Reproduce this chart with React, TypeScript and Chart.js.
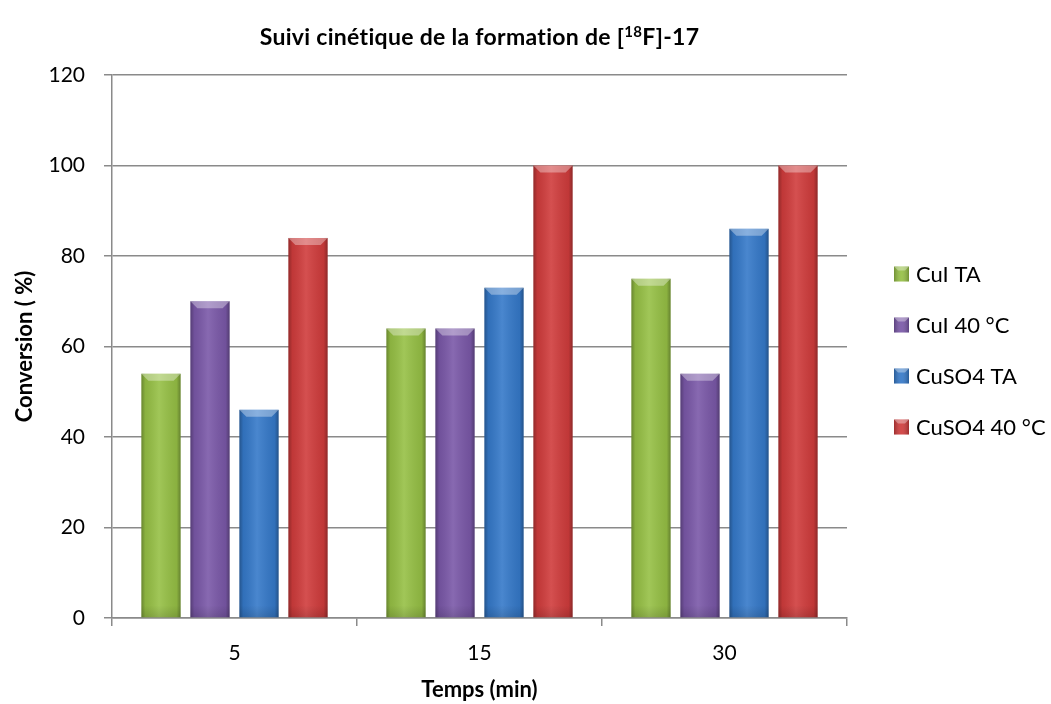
import React, { useEffect, useRef } from 'react';
import { Chart, registerables } from 'chart.js';

Chart.register(...registerables);

// ---- Data ----
const categories = ['5', '15', '30'];
const seriesNames = ['CuI TA', 'CuI 40 °C', 'CuSO4 TA', 'CuSO4 40 °C'];
const cuiTA = [54, 64, 75];
const cui40 = [70, 64, 54];
const cuso4TA = [46, 73, 86];
const cuso440 = [84, 100, 100];
const seriesColors = ['#96C045', '#7A58A8', '#3579C9', '#D03C3C'];
const yMin = 0;
const yMax = 120;
const yStep = 20;
const titleMain = 'Suivi cinétique de la formation de [';
const titleSup = '18';
const titleEnd = 'F]-17';
const xTitle = 'Temps (min)';
const yTitle = 'Conversion ( %)';

const FONT = 'Lato, "Open Sans", sans-serif';
const GRID = '#8a8a8a';

const bevelPlugin = {
  id: 'bevelBars',
  afterDatasetDraw(chart: any, args: any) {
    const ctx = chart.ctx;
    const meta = chart.getDatasetMeta(args.index);
    ctx.save();
    meta.data.forEach((el: any) => {
      const p = el.getProps(['x', 'y', 'base', 'width'], true);
      const left = p.x - p.width / 2;
      const right = p.x + p.width / 2;
      const top = Math.min(p.y, p.base);
      const bottom = Math.max(p.y, p.base);
      const w = right - left;
      const g = ctx.createLinearGradient(left, 0, right, 0);
      g.addColorStop(0, 'rgba(0,0,0,0.30)');
      g.addColorStop(0.1, 'rgba(0,0,0,0.08)');
      g.addColorStop(0.45, 'rgba(255,255,255,0.10)');
      g.addColorStop(0.9, 'rgba(0,0,0,0.08)');
      g.addColorStop(1, 'rgba(0,0,0,0.32)');
      ctx.fillStyle = g;
      ctx.fillRect(left, top, w, bottom - top);
      const b = Math.min(7, (bottom - top) / 2);
      // top bevel
      ctx.beginPath();
      ctx.moveTo(left, top);
      ctx.lineTo(right, top);
      ctx.lineTo(right - b, top + b);
      ctx.lineTo(left + b, top + b);
      ctx.closePath();
      ctx.fillStyle = 'rgba(255,255,255,0.35)';
      ctx.fill();
      // bottom shade
      const gb = ctx.createLinearGradient(0, bottom - 12, 0, bottom);
      gb.addColorStop(0, 'rgba(0,0,0,0)');
      gb.addColorStop(1, 'rgba(0,0,0,0.12)');
      ctx.fillStyle = gb;
      ctx.fillRect(left, bottom - 12, w, 12);
    });
    ctx.restore();
  },
};

const titleLegendPlugin = {
  id: 'titleLegend',
  afterDraw(chart: any) {
    const ctx = chart.ctx;
    const ca = chart.chartArea;
    ctx.save();
    // Title with superscript
    const mainFont = `bold 23px ${FONT}`;
    const supFont = `bold 15px ${FONT}`;
    ctx.letterSpacing = '0.3px';
    ctx.font = mainFont;
    const w1 = ctx.measureText(titleMain).width;
    const w3 = ctx.measureText(titleEnd).width;
    ctx.font = supFont;
    const w2 = ctx.measureText(titleSup).width;
    const total = w1 + w2 + w3;
    let x = (ca.left + ca.right) / 2 - total / 2;
    const baseY = 45;
    ctx.fillStyle = '#000';
    ctx.textBaseline = 'alphabetic';
    ctx.textAlign = 'left';
    ctx.font = mainFont;
    ctx.fillText(titleMain, x, baseY);
    x += w1;
    ctx.font = supFont;
    ctx.fillText(titleSup, x, baseY - 8);
    x += w2;
    ctx.font = mainFont;
    ctx.fillText(titleEnd, x, baseY);
    ctx.letterSpacing = '0px';

    // Legend
    const rowYs = [274, 325, 376, 427];
    ctx.font = `22px ${FONT}`;
    ctx.textBaseline = 'middle';
    chart.data.datasets.forEach((ds: any, i: number) => {
      const cy = rowYs[i];
      const bx = 894;
      const s = 15;
      const by = cy - s / 2;
      ctx.fillStyle = ds.backgroundColor;
      ctx.fillRect(bx, by, s, s);
      const g = ctx.createLinearGradient(bx, 0, bx + s, 0);
      g.addColorStop(0, 'rgba(0,0,0,0.25)');
      g.addColorStop(0.5, 'rgba(255,255,255,0.08)');
      g.addColorStop(1, 'rgba(0,0,0,0.25)');
      ctx.fillStyle = g;
      ctx.fillRect(bx, by, s, s);
      ctx.beginPath();
      ctx.moveTo(bx, by);
      ctx.lineTo(bx + s, by);
      ctx.lineTo(bx + s - 4, by + 4);
      ctx.lineTo(bx + 4, by + 4);
      ctx.closePath();
      ctx.fillStyle = 'rgba(255,255,255,0.35)';
      ctx.fill();
      ctx.fillStyle = '#000';
      ctx.fillText(ds.label, 916, cy + 1);
    });
    ctx.restore();
  },
};

export default function App() {
  const ref = useRef<HTMLCanvasElement | null>(null);
  useEffect(() => {
    if (!ref.current) return;
    const values = [cuiTA, cui40, cuso4TA, cuso440];
    const chart = new Chart(ref.current, {
      type: 'bar',
      data: {
        labels: categories,
        datasets: seriesNames.map((name, i) => ({
          label: name,
          data: values[i],
          backgroundColor: seriesColors[i],
          borderWidth: 0,
          barPercentage: 0.8,
          categoryPercentage: 0.8,
        })),
      },
      options: {
        responsive: false,
        animation: false,
        layout: { padding: { top: 75, right: 204, left: 0, bottom: 0 } },
        plugins: {
          legend: { display: false },
          title: { display: false },
          tooltip: { enabled: false },
        },
        scales: {
          x: {
            afterFit: (s: any) => { s.height = 86; },
            grid: {
              display: true,
              drawOnChartArea: false,
              drawTicks: true,
              tickLength: 8,
              color: GRID,
              lineWidth: 1.5,
            },
            border: { display: true, color: GRID, width: 1.5 },
            ticks: { color: '#000', font: { family: FONT, size: 21 }, padding: 15 },
            title: {
              display: true,
              text: xTitle,
              color: '#000',
              font: { family: FONT, size: 22, weight: 'bold' },
              padding: { top: 0, bottom: 1 },
            },
          },
          y: {
            min: yMin,
            max: yMax,
            afterFit: (s: any) => { s.width = 112; },
            grid: {
              color: GRID,
              lineWidth: 1.5,
              drawTicks: true,
              tickLength: 8,
            },
            border: { display: true, color: GRID, width: 1.5 },
            ticks: {
              stepSize: yStep,
              color: '#000',
              font: { family: FONT, size: 21 },
              padding: 19,
            },
            title: {
              display: true,
              text: yTitle,
              color: '#000',
              font: { family: FONT, size: 22, weight: 'bold' },
              padding: { top: 12, bottom: 0 },
            },
          },
        },
      },
      plugins: [bevelPlugin, titleLegendPlugin],
    } as any);
    return () => chart.destroy();
  }, []);
  return (
    <div style={{ position: 'fixed', left: 0, top: 0, width: 1051, height: 704, background: '#fff' }}>
      <canvas ref={ref} width={1051} height={704} style={{ width: 1051, height: 704, display: 'block' }} />
    </div>
  );
}
